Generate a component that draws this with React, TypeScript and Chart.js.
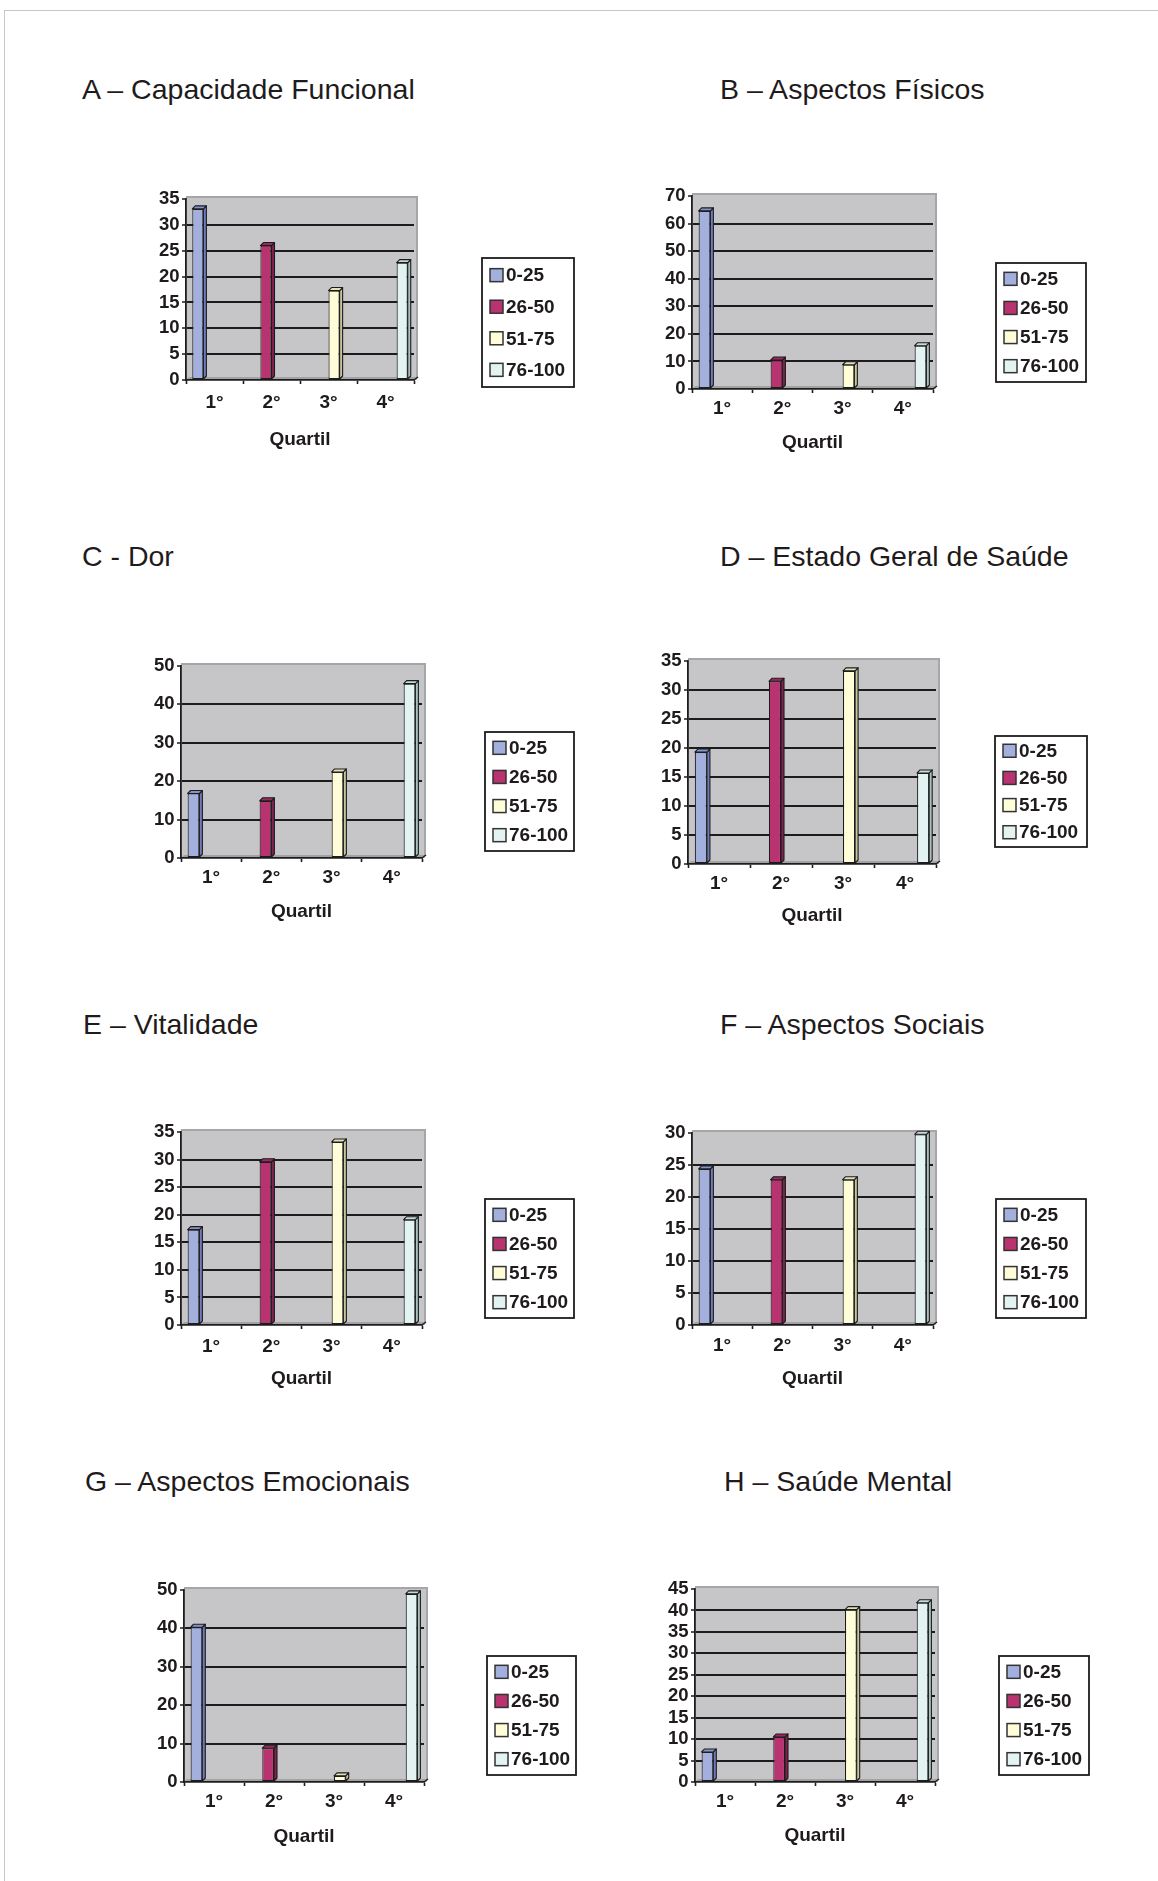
import React, { useEffect, useRef } from 'react';
import { Chart, registerables } from 'chart.js';

Chart.register(...registerables);
Chart.defaults.font.family = "'Liberation Sans', Arial, Helvetica, sans-serif";

// ---------- data ----------
const quartis = ['1°', '2°', '3°', '4°'];
const faixas = ['0-25', '26-50', '51-75', '76-100'];

const capacidadeFuncional = [33.1, 26.0, 17.3, 22.7];
const aspectosFisicos = [64.6, 10.5, 8.8, 15.7];
const dor = [16.8, 14.9, 22.4, 45.4];
const estadoGeralSaude = [19.3, 31.5, 33.3, 15.7];
const vitalidade = [17.3, 29.6, 33.2, 19.1];
const aspectosSociais = [24.4, 22.7, 22.7, 29.8];
const aspectosEmocionais = [40.3, 8.8, 1.6, 49.0];
const saudeMental = [7.0, 10.5, 40.2, 41.8];

const yMaximos = [35, 70, 50, 35, 35, 30, 50, 45];
const yPassos = [5, 10, 10, 5, 5, 5, 10, 5];

const titulos = [
  'A – Capacidade Funcional',
  'B – Aspectos Físicos',
  'C - Dor',
  'D – Estado Geral de Saúde',
  'E – Vitalidade',
  'F – Aspectos Sociais',
  'G – Aspectos Emocionais',
  'H – Saúde Mental',
];
const eixoX = 'Quartil';

const series = [
  capacidadeFuncional,
  aspectosFisicos,
  dor,
  estadoGeralSaude,
  vitalidade,
  aspectosSociais,
  aspectosEmocionais,
  saudeMental,
];

// ---------- styles ----------
const corFrente = ['#A3B0DE', '#B8336F', '#FFFCD8', '#E2F3F2'];
const corLado = ['#6E7CBE', '#842150', '#C9C59C', '#A9C2C0'];
const corTopo = ['#8794CC', '#9A2A5E', '#E4E0B8', '#C6DBD9'];
const corTexto = '#1F1B1C';
const corLinha = '#1C1C1C';
const FONTE = "'Liberation Sans', Arial, sans-serif";

// layout (page coordinates)
const layouts = [
  { plotL: 186, plotR: 414, plotT: 199, plotB: 380, leg: [482, 258, 92, 129], tX: 82, tB: 99, xLab: 23, qGap: 60 },
  { plotL: 692, plotR: 933, plotT: 196, plotB: 389, leg: [996, 263, 90, 119], tX: 720, tB: 99, xLab: 20, qGap: 54 },
  { plotL: 181, plotR: 422, plotT: 666, plotB: 858, leg: [485, 732, 89, 119], tX: 82, tB: 566, xLab: 20, qGap: 54 },
  { plotL: 688, plotR: 936, plotT: 661, plotB: 864, leg: [995, 736, 92, 111], tX: 720, tB: 566, xLab: 20, qGap: 52 },
  { plotL: 181, plotR: 422, plotT: 1132, plotB: 1325, leg: [485, 1199, 89, 119], tX: 83, tB: 1034, xLab: 22, qGap: 54 },
  { plotL: 692, plotR: 933, plotT: 1133, plotB: 1325, leg: [996, 1199, 90, 119], tX: 720, tB: 1034, xLab: 21, qGap: 54 },
  { plotL: 184, plotR: 424, plotT: 1590, plotB: 1782, leg: [487, 1656, 89, 119], tX: 85, tB: 1491, xLab: 20, qGap: 55 },
  { plotL: 695, plotR: 935, plotT: 1589, plotB: 1782, leg: [999, 1656, 90, 119], tX: 724, tB: 1491, xLab: 20, qGap: 54 },
];

const DEPTH = 3;

const wallPlugin = {
  id: 'parede3d',
  beforeDraw(chart: any) {
    const { ctx, chartArea: a } = chart;
    const d = DEPTH;
    ctx.save();
    ctx.fillStyle = '#C6C6C8';
    ctx.fillRect(a.left, a.top - 2, a.right + d - a.left, a.bottom - (a.top - 2));
    ctx.strokeStyle = '#A6A6A8';
    ctx.lineWidth = 2;
    ctx.beginPath();
    ctx.moveTo(a.left, a.top - 2);
    ctx.lineTo(a.right + d, a.top - 2);
    ctx.lineTo(a.right + d, a.bottom - d);
    ctx.stroke();
    ctx.fillStyle = '#A2A2A4';
    ctx.beginPath();
    ctx.moveTo(a.left, a.bottom);
    ctx.lineTo(a.left + d, a.bottom - d);
    ctx.lineTo(a.right + d, a.bottom - d);
    ctx.lineTo(a.right, a.bottom);
    ctx.closePath();
    ctx.fill();
    ctx.restore();
  },
  afterDraw(chart: any) {
    const { ctx, chartArea: a } = chart;
    ctx.save();
    ctx.strokeStyle = corLinha;
    ctx.lineWidth = 1.5;
    ctx.beginPath();
    ctx.moveTo(a.right, a.bottom);
    ctx.lineTo(a.right + DEPTH + 1, a.bottom - DEPTH);
    ctx.stroke();
    ctx.restore();
  },
};

const bar3dPlugin = {
  id: 'barra3d',
  afterDatasetsDraw(chart: any) {
    const { ctx } = chart;
    const d = DEPTH;
    chart.data.datasets.forEach((ds: any, i: number) => {
      const meta = chart.getDatasetMeta(i);
      meta.data.forEach((el: any, j: number) => {
        if (ds.data[j] == null) return;
        const { x, y, base, width } = el.getProps(['x', 'y', 'base', 'width'], true);
        const l = x - width / 2;
        const r = x + width / 2;
        ctx.save();
        ctx.strokeStyle = corLinha;
        ctx.lineWidth = 1.1;
        ctx.lineJoin = 'round';
        ctx.fillStyle = ds.corLado;
        ctx.beginPath();
        ctx.moveTo(r, y);
        ctx.lineTo(r + d, y - d);
        ctx.lineTo(r + d, base - d);
        ctx.lineTo(r, base);
        ctx.closePath();
        ctx.fill();
        ctx.stroke();
        ctx.fillStyle = ds.corTopo;
        ctx.beginPath();
        ctx.moveTo(l, y);
        ctx.lineTo(l + d, y - d);
        ctx.lineTo(r + d, y - d);
        ctx.lineTo(r, y);
        ctx.closePath();
        ctx.fill();
        ctx.stroke();
        ctx.restore();
      });
    });
  },
};

const legendPlugin = {
  id: 'caixaLegenda',
  afterDraw(chart: any, _args: any, opts: any) {
    const { ctx } = chart;
    const { x, y, w, h } = opts;
    ctx.save();
    ctx.fillStyle = '#FFFFFF';
    ctx.fillRect(x, y, w, h);
    ctx.strokeStyle = corLinha;
    ctx.lineWidth = 1.8;
    ctx.strokeRect(x, y, w, h);
    const n = chart.data.datasets.length;
    const pad = h * 0.133;
    const step = (h - 2 * pad) / (n - 1);
    ctx.font = `bold 19px ${FONTE}`;
    ctx.textBaseline = 'middle';
    ctx.textAlign = 'left';
    chart.data.datasets.forEach((ds: any, k: number) => {
      const cy = y + pad + k * step;
      ctx.fillStyle = ds.backgroundColor;
      ctx.fillRect(x + 8, cy - 6.5, 13, 13);
      ctx.strokeStyle = '#333333';
      ctx.lineWidth = 1.5;
      ctx.strokeRect(x + 8, cy - 6.5, 13, 13);
      ctx.fillStyle = corTexto;
      ctx.fillText(ds.label, x + 24, cy + 1);
    });
    ctx.restore();
  },
};

function Painel({ idx }: { idx: number }) {
  const ref = useRef<HTMLCanvasElement>(null);
  const L = layouts[idx];
  const cL = L.plotL - 50;
  const cT = L.plotT - 20;
  const cW = L.leg[0] + L.leg[2] + 10 - cL;
  const cH = L.plotB + 80 - cT;

  useEffect(() => {
    if (!ref.current) return;
    const valores = series[idx];
    const yMax = yMaximos[idx];
    const datasets = faixas.map((faixa, i) => ({
      label: faixa,
      data: quartis.map((_, j) => (j === i ? valores[i] : null)),
      backgroundColor: corFrente[i],
      borderColor: corLinha,
      borderWidth: 1.1,
      borderSkipped: false,
      categoryPercentage: 0.78,
      barPercentage: 1.0,
      corLado: corLado[i],
      corTopo: corTopo[i],
    }));
    const chart = new Chart(ref.current, {
      type: 'bar',
      data: { labels: quartis, datasets: datasets as any },
      plugins: [wallPlugin, bar3dPlugin, legendPlugin],
      options: {
        responsive: false,
        animation: false,
        devicePixelRatio: 1,
        layout: {
          padding: { left: 0, top: 20, right: cW - (L.plotR - cL), bottom: 0 },
        },
        plugins: {
          legend: { display: false },
          tooltip: { enabled: false },
          title: { display: false },
          caixaLegenda: { x: L.leg[0] - cL, y: L.leg[1] - cT, w: L.leg[2], h: L.leg[3] },
        } as any,
        scales: {
          x: {
            type: 'category',
            offset: true,
            afterFit: (s: any) => {
              s.height = 80;
            },
            grid: {
              display: true,
              drawOnChartArea: false,
              drawTicks: true,
              tickLength: 4,
              tickColor: corLinha,
              tickWidth: 1.6,
              offset: true,
            },
            border: { display: true, color: corLinha, width: 1.8 },
            ticks: {
              color: corTexto,
              font: { size: 19, weight: 'bold' },
              padding: L.xLab - 4 - 11.4,
              maxRotation: 0,
            },
            title: {
              display: true,
              text: eixoX,
              color: corTexto,
              font: { size: 19, weight: 'bold' },
              padding: { top: 0, bottom: 80 - L.qGap - 11.4 },
            },
          },
          y: {
            min: 0,
            max: yMax,
            afterFit: (s: any) => {
              s.width = 50;
            },
            grid: {
              color: (c: any) =>
                c.tick && (c.tick.value === 0 || c.tick.value === yMax) ? 'rgba(0,0,0,0)' : corLinha,
              lineWidth: 2,
              drawTicks: true,
              tickLength: 4,
              tickColor: corLinha,
              tickWidth: 1.5,
            },
            border: { display: true, color: corLinha, width: 1.8 },
            ticks: {
              stepSize: yPassos[idx],
              autoSkip: false,
              color: corTexto,
              font: { size: 18.5, weight: 'bold' },
              padding: 2.5,
            },
          },
        },
      } as any,
    });
    return () => chart.destroy();
  }, [idx]);

  return (
    <>
      <div
        style={{
          position: 'absolute',
          left: L.tX,
          top: L.tB - 24,
          fontFamily: FONTE,
          fontSize: 28.5,
          lineHeight: '28.5px',
          color: corTexto,
          whiteSpace: 'nowrap',
        }}
      >
        {titulos[idx]}
      </div>
      <canvas
        ref={ref}
        width={cW}
        height={cH}
        style={{ position: 'absolute', left: cL, top: cT, width: cW, height: cH }}
      />
    </>
  );
}

export default function App() {
  return (
    <div
      style={{
        position: 'absolute',
        left: 0,
        top: 0,
        width: 1158,
        height: 1881,
        background: '#FFFFFF',
        overflow: 'hidden',
      }}
    >
      <div
        style={{
          position: 'absolute',
          left: 4,
          top: 10,
          width: 1160,
          height: 1880,
          borderTop: '1.5px solid #C8C8C8',
          borderLeft: '1.5px solid #C8C8C8',
        }}
      />
      {titulos.map((_, i) => (
        <Painel key={i} idx={i} />
      ))}
    </div>
  );
}
